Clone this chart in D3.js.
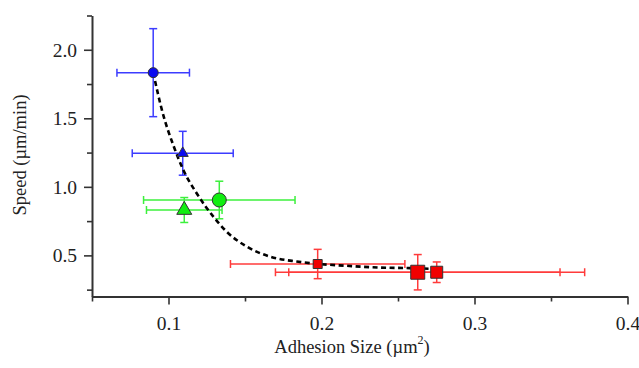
<!DOCTYPE html>
<html>
<head>
<meta charset="utf-8">
<script src="https://cdn.jsdelivr.net/npm/d3@7"></script>
<style>
  body{margin:0;background:#fff;}
  text{font-family:"Liberation Serif","Times New Roman",serif;fill:#222;}
</style>
</head>
<body>
<svg id="chart" width="639" height="368"></svg>
<script>
// data
var groups=["blue","blue","green","green","red","red","red"];
var shapes=["circle","triangle","circle","triangle","square","square","square"];
var adhesion=[0.090,0.1093,0.1332,0.1103,0.1975,0.2629,0.2753];
var adhesionErr=[0.0237,0.033,0.0495,0.0247,0.057,0.093,0.0967];
var speed=[1.833,1.245,0.904,0.831,0.437,0.377,0.377];
var speedErr=[0.321,0.16,0.137,0.091,0.107,0.129,0.075];
var markerSize=[10,11,14,15,9,14,12];

// fitted decay curve
var fitX=[0.090,0.0966,0.1031,0.1097,0.1184,0.1293,0.138,0.1511,0.1663,0.1838,0.1975,0.2165,0.2382,0.2578,0.2709];
var fitY=[1.833,1.523,1.305,1.123,0.953,0.783,0.673,0.564,0.491,0.455,0.438,0.424,0.411,0.407,0.402];

var xMajor=[0.1,0.2,0.3,0.4], xMinor=[0.05,0.15,0.25,0.35];
var yMajor=[0.5,1.0,1.5,2.0], yMinor=[0.25,0.75,1.25,1.75,2.25];

var colors={
  blue:{fill:"#0a0af0",bar:"#3c3cff"},
  green:{fill:"#11ee11",bar:"#3cf03c"},
  red:{fill:"#f00000",bar:"#ff3b3b"}
};

var svg=d3.select("#chart");
var x=d3.scaleLinear().domain([0.05,0.4]).range([92,627.5]),
    y=d3.scaleLinear().domain([0.2,2.25]).range([296.5,15.5]);

// axes
var axisColor="#333";
var xa=svg.append("g").attr("transform","translate(0,"+y(0.2)+")");
xa.call(d3.axisBottom(x).tickValues(xMajor).tickSize(8).tickSizeOuter(0).tickFormat(d3.format(".1f")));
xa.append("g").call(d3.axisBottom(x).tickValues(xMinor).tickSize(5).tickSizeOuter(0).tickFormat(""))
  .select(".domain").remove();
var ya=svg.append("g").attr("transform","translate("+x(0.05)+",0)");
ya.call(d3.axisLeft(y).tickValues(yMajor).tickSize(8).tickSizeOuter(0).tickFormat(d3.format(".1f")));
ya.append("g").call(d3.axisLeft(y).tickValues(yMinor).tickSize(5).tickSizeOuter(0).tickFormat(""))
  .select(".domain").remove();

svg.selectAll(".domain").attr("stroke",axisColor).attr("stroke-width",2);
svg.selectAll(".tick line").attr("stroke",axisColor).attr("stroke-width",1.6);
xa.selectAll(".tick text").attr("font-size",19.5).attr("dy","1.15em").style("font-family","Liberation Serif");
ya.selectAll(".tick text").attr("font-size",19.5).attr("dx","-0.2em").style("font-family","Liberation Serif");

// axis titles
var xt=svg.append("text").attr("x",352).attr("y",353).attr("text-anchor","middle").attr("font-size",18.5);
xt.append("tspan").text("Adhesion Size (\u00b5m");
xt.append("tspan").attr("dy",-9).attr("font-size",12).text("2");
xt.append("tspan").attr("dy",9).text(")");
svg.append("text").attr("transform","translate(26,155) rotate(-90)").attr("text-anchor","middle")
  .attr("font-size",18.5).text("Speed (\u00b5m/min)");

var pts=adhesion.map(function(d,i){
  return {x:d,xe:adhesionErr[i],y:speed[i],ye:speedErr[i],g:groups[i],s:shapes[i],size:markerSize[i]};
});

// error bars
var cap=4;
var eb=svg.append("g").selectAll("g").data(pts).enter().append("g")
  .attr("stroke",function(d){return colors[d.g].bar;}).attr("stroke-width",1.5).attr("fill","none");
eb.append("line").attr("x1",function(d){return x(d.x-d.xe);}).attr("x2",function(d){return x(d.x+d.xe);})
  .attr("y1",function(d){return y(d.y);}).attr("y2",function(d){return y(d.y);});
eb.append("line").attr("x1",function(d){return x(d.x);}).attr("x2",function(d){return x(d.x);})
  .attr("y1",function(d){return y(d.y-d.ye);}).attr("y2",function(d){return y(d.y+d.ye);});
[-1,1].forEach(function(s){
  eb.append("line").attr("x1",function(d){return x(d.x+s*d.xe);}).attr("x2",function(d){return x(d.x+s*d.xe);})
    .attr("y1",function(d){return y(d.y)-cap;}).attr("y2",function(d){return y(d.y)+cap;});
  eb.append("line").attr("y1",function(d){return y(d.y+s*d.ye);}).attr("y2",function(d){return y(d.y+s*d.ye);})
    .attr("x1",function(d){return x(d.x)-cap;}).attr("x2",function(d){return x(d.x)+cap;});
});

// fit curve
var line=d3.line().x(function(d){return x(d[0]);}).y(function(d){return y(d[1]);}).curve(d3.curveMonotoneX);
svg.append("path").datum(d3.zip(fitX,fitY)).attr("d",line)
  .attr("fill","none").attr("stroke","#000").attr("stroke-width",2.6).attr("stroke-dasharray","5,3.5");

// markers
var symType={circle:d3.symbolCircle,triangle:d3.symbolTriangle,square:d3.symbolSquare};
svg.append("g").selectAll("path").data(pts).enter().append("path")
  .attr("transform",function(d){return "translate("+x(d.x)+","+y(d.y)+")";})
  .attr("d",function(d){
    var a=d.s=="triangle"?d.size*d.size*Math.sqrt(3)/4:d.s=="circle"?Math.PI*d.size*d.size/4:d.size*d.size;
    return d3.symbol().type(symType[d.s]).size(a)();
  })
  .attr("fill",function(d){return colors[d.g].fill;})
  .attr("stroke","#333").attr("stroke-width",1);
</script>
</body>
</html>
